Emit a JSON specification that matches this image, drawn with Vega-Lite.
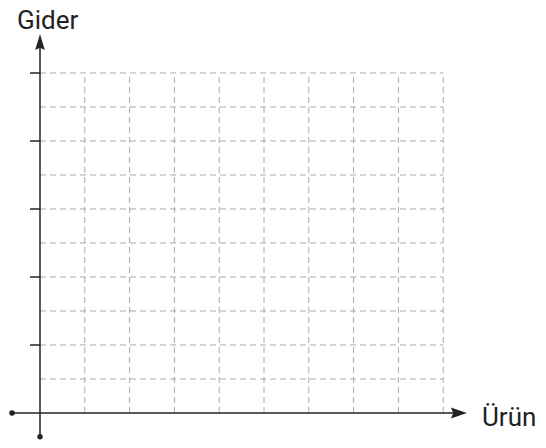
{
  "$schema": "https://vega.github.io/schema/vega-lite/v6.json",
  "width": 546,
  "height": 448,
  "autosize": "none",
  "padding": 0,
  "background": "white",
  "config": {"view": {"stroke": null}},
  "datasets": {
    "hgrid": [{"y": 1}, {"y": 2}, {"y": 3}, {"y": 4}, {"y": 5}, {"y": 6}, {"y": 7}, {"y": 8}, {"y": 9}, {"y": 10}],
    "vgrid": [{"x": 1}, {"x": 2}, {"x": 3}, {"x": 4}, {"x": 5}, {"x": 6}, {"x": 7}, {"x": 8}, {"x": 9}],
    "ticks": [{"y": 2}, {"y": 4}, {"y": 6}, {"y": 8}, {"y": 10}],
    "axes": [
      {"axis": "x", "x": -0.625, "x2": 9.3, "y": 0, "y2": 0},
      {"axis": "y", "x": 0, "x2": 0, "y": -0.7, "y2": 10.85}
    ],
    "dots": [{"x": -0.625, "y": 0}, {"x": 0, "y": -0.7}],
    "arrows": [{"dir": "up", "x": 0, "y": 10.91}, {"dir": "right", "x": 9.35, "y": 0}],
    "labels": [
      {"label": "Gider", "x": -0.513, "y": 11.29},
      {"label": "Ürün", "x": 9.866, "y": -0.382}
    ]
  },
  "layer": [
    {
      "data": {"name": "hgrid"},
      "mark": {"type": "rule", "stroke": "#aaaaaa", "strokeWidth": 1, "strokeDash": [6, 4]},
      "encoding": {
        "y": {"field": "y", "type": "quantitative", "scale": {"domain": [-1.0294, 12.147], "nice": false, "zero": false}, "axis": null},
        "x": {"datum": 0, "type": "quantitative", "scale": {"domain": [-0.8929, 11.2946], "nice": false, "zero": false}, "axis": null},
        "x2": {"datum": 9}
      }
    },
    {
      "data": {"name": "vgrid"},
      "mark": {"type": "rule", "stroke": "#aaaaaa", "strokeWidth": 1, "strokeDash": [6, 4]},
      "encoding": {
        "x": {"field": "x", "type": "quantitative", "scale": {"domain": [-0.8929, 11.2946], "nice": false, "zero": false}, "axis": null},
        "y": {"datum": 0, "type": "quantitative", "scale": {"domain": [-1.0294, 12.147], "nice": false, "zero": false}, "axis": null},
        "y2": {"datum": 10}
      }
    },
    {
      "data": {"name": "ticks"},
      "mark": {"type": "rule", "stroke": "#222222", "strokeWidth": 1.5},
      "encoding": {
        "y": {"field": "y", "type": "quantitative", "scale": {"domain": [-1.0294, 12.147], "nice": false, "zero": false}, "axis": null},
        "x": {"datum": -0.223, "type": "quantitative", "scale": {"domain": [-0.8929, 11.2946], "nice": false, "zero": false}, "axis": null},
        "x2": {"datum": 0}
      }
    },
    {
      "data": {"name": "axes"},
      "mark": {"type": "rule", "stroke": "#222222", "strokeWidth": 1.5},
      "encoding": {
        "x": {"field": "x", "type": "quantitative", "scale": {"domain": [-0.8929, 11.2946], "nice": false, "zero": false}, "axis": null},
        "x2": {"field": "x2"},
        "y": {"field": "y", "type": "quantitative", "scale": {"domain": [-1.0294, 12.147], "nice": false, "zero": false}, "axis": null},
        "y2": {"field": "y2"}
      }
    },
    {
      "data": {"name": "dots"},
      "mark": {"type": "point", "filled": true, "color": "#222222", "size": 30, "opacity": 1},
      "encoding": {
        "x": {"field": "x", "type": "quantitative", "scale": {"domain": [-0.8929, 11.2946], "nice": false, "zero": false}, "axis": null},
        "y": {"field": "y", "type": "quantitative", "scale": {"domain": [-1.0294, 12.147], "nice": false, "zero": false}, "axis": null}
      }
    },
    {
      "data": {"name": "arrows"},
      "mark": {"type": "point", "filled": true, "color": "#222222", "size": 256, "opacity": 1, "strokeWidth": 0},
      "encoding": {
        "x": {"field": "x", "type": "quantitative", "scale": {"domain": [-0.8929, 11.2946], "nice": false, "zero": false}, "axis": null},
        "y": {"field": "y", "type": "quantitative", "scale": {"domain": [-1.0294, 12.147], "nice": false, "zero": false}, "axis": null},
        "shape": {"field": "dir", "type": "nominal", "scale": {"domain": ["up", "right"], "range": ["M0,-1L0.6,1L0,0.7L-0.6,1Z", "M1,0L-1,0.68L-0.7,0L-1,-0.68Z"]}, "legend": null}
      }
    },
    {
      "data": {"name": "labels"},
      "mark": {"type": "text", "align": "left", "baseline": "alphabetic", "font": "Roboto", "fontSize": 26, "color": "#222222"},
      "encoding": {
        "x": {"field": "x", "type": "quantitative", "scale": {"domain": [-0.8929, 11.2946], "nice": false, "zero": false}, "axis": null},
        "y": {"field": "y", "type": "quantitative", "scale": {"domain": [-1.0294, 12.147], "nice": false, "zero": false}, "axis": null},
        "text": {"field": "label", "type": "nominal"}
      }
    }
  ]
}
